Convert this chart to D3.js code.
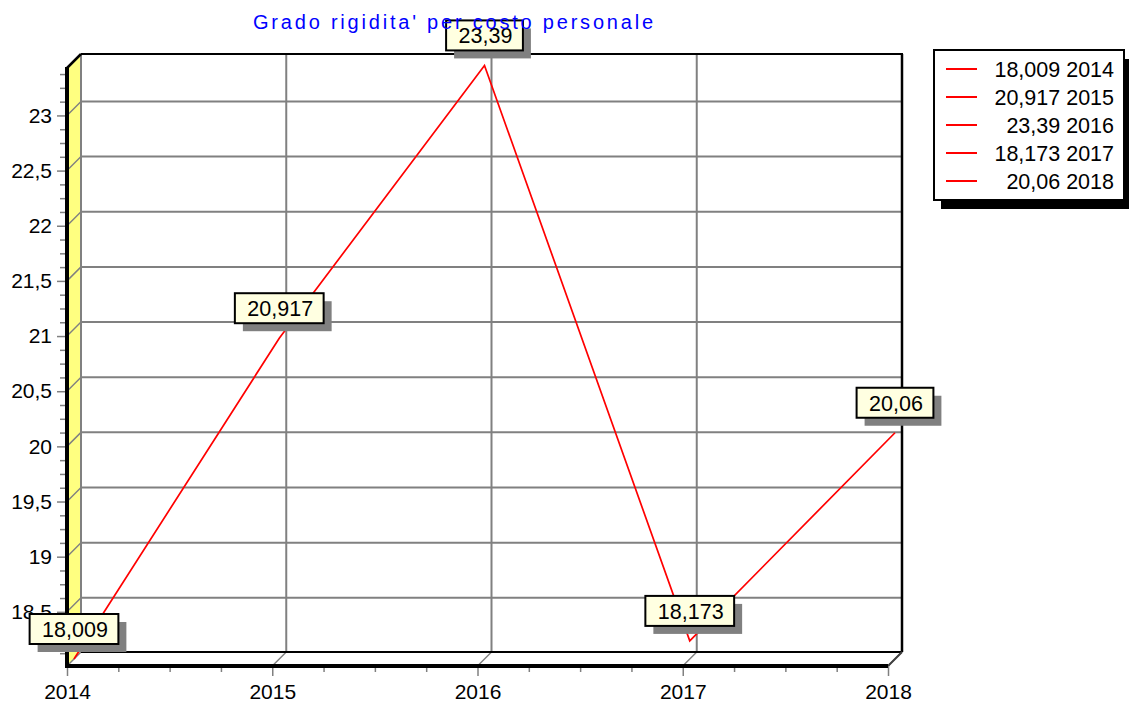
<!DOCTYPE html>
<html>
<head>
<meta charset="utf-8">
<script src="https://cdn.jsdelivr.net/npm/d3@7"></script>
<style>
	body { margin: 0; background: #fff; }
	svg { display: block; font-family: "Liberation Sans", Arial, sans-serif; }
</style>
</head>
<body>
<div id="chart"></div>
<script>
// dati del grafico
var titolo = "Grado rigidita' per costo personale";
var anni = [2014, 2015, 2016, 2017, 2018];
var valori = [18.009, 20.917, 23.39, 18.173, 20.06];
var yTicks = [18.5, 19, 19.5, 20, 20.5, 21, 21.5, 22, 22.5, 23];
var yMinor = d3.range(18.125, 23.43, 0.125).filter(function (v) { return yTicks.indexOf(v) < 0; });
var xMinor = d3.range(2014, 2018.01, 0.25).filter(function (v) { return anni.indexOf(v) < 0; });

var W = 1129, H = 705;
var depth = 14;

function virgola(v) {
	return String(v).replace(".", ",");
}

var svg = d3.select("#chart").append("svg")
	.attr("width", W)
	.attr("height", H);

// scale: asse frontale e piano di fondo
var xF = d3.scaleLinear().domain([2014, 2018]).range([67, 888]);
var yB = d3.scaleLinear().domain([18.009, 23.43]).range([652, 54]);
var yF = yB.copy().range([652 + depth, 54 + depth]);

var x0 = xF(2014) + depth, x1 = xF(2018) + depth;
var yTop = yB.range()[1], yBot = yB.range()[0];

// piano di fondo
svg.append("rect")
	.attr("x", x0).attr("y", yTop)
	.attr("width", x1 - x0).attr("height", yBot - yTop)
	.attr("fill", "#fff");

// griglia
svg.selectAll(".gy").data(yTicks).enter().append("line")
	.attr("x1", x0).attr("x2", x1)
	.attr("y1", function (d) { return yB(d); })
	.attr("y2", function (d) { return yB(d); })
	.attr("stroke", "#808080").attr("stroke-width", 2);

svg.selectAll(".gx").data(anni).enter().append("line")
	.attr("x1", function (d) { return xF(d) + depth; })
	.attr("x2", function (d) { return xF(d) + depth; })
	.attr("y1", yTop).attr("y2", yBot)
	.attr("stroke", "#808080").attr("stroke-width", 2);

// parete sinistra gialla
svg.append("polygon")
	.attr("points", [[xF(2014), yF.range()[1]], [x0, yTop], [x0, yBot], [xF(2014), yF.range()[0]]].join(" "))
	.attr("fill", "#ffff80");

svg.selectAll(".cy").data(yTicks).enter().append("line")
	.attr("x1", xF(2014)).attr("x2", x0)
	.attr("y1", function (d) { return yF(d); })
	.attr("y2", function (d) { return yB(d); })
	.attr("stroke", "#808080").attr("stroke-width", 1.5);

svg.selectAll(".cx").data(anni).enter().append("line")
	.attr("x1", function (d) { return xF(d); })
	.attr("x2", function (d) { return xF(d) + depth; })
	.attr("y1", yBot + depth).attr("y2", yBot)
	.attr("stroke", "#808080").attr("stroke-width", 1.5);

// bordi
svg.append("line").attr("x1", x0).attr("x2", x0).attr("y1", yTop).attr("y2", yBot)
	.attr("stroke", "#808080").attr("stroke-width", 2);
svg.append("line").attr("x1", x0).attr("x2", x1 + 1).attr("y1", yTop).attr("y2", yTop)
	.attr("stroke", "#000").attr("stroke-width", 2);
svg.append("line").attr("x1", x1).attr("x2", x1).attr("y1", yTop).attr("y2", yBot)
	.attr("stroke", "#000").attr("stroke-width", 2.5);
svg.append("line").attr("x1", x0).attr("x2", x1).attr("y1", yBot).attr("y2", yBot)
	.attr("stroke", "#000").attr("stroke-width", 2);
svg.append("line").attr("x1", xF(2018)).attr("x2", x1).attr("y1", yBot + depth).attr("y2", yBot)
	.attr("stroke", "#404040").attr("stroke-width", 2);
svg.append("line").attr("x1", xF(2014)).attr("x2", x0).attr("y1", yF.range()[1]).attr("y2", yTop)
	.attr("stroke", "#000").attr("stroke-width", 2.5);

// assi frontali
var axY = svg.append("g").attr("transform", "translate(" + xF(2014) + ",0)")
	.call(d3.axisLeft(yF).tickValues(yTicks).tickSize(10).tickPadding(5).tickFormat(virgola));
var axYm = svg.append("g").attr("transform", "translate(" + xF(2014) + ",0)")
	.call(d3.axisLeft(yF).tickValues(yMinor).tickSize(7).tickFormat(""));
var axX = svg.append("g").attr("transform", "translate(0," + (yBot + depth) + ")")
	.call(d3.axisBottom(xF).tickValues(anni).tickSize(10).tickPadding(8).tickFormat(d3.format("d")));
var axXm = svg.append("g").attr("transform", "translate(0," + (yBot + depth) + ")")
	.call(d3.axisBottom(xF).tickValues(xMinor).tickSize(6).tickFormat(""));

[axY, axYm, axX, axXm].forEach(function (g) {
	g.select(".domain").remove();
	g.selectAll("line").attr("stroke", "#808080").attr("stroke-width", 1.5);
	g.selectAll("text").attr("fill", "#000").style("font-size", "21px")
		.style("font-family", "\"Liberation Sans\", Arial, sans-serif");
});

svg.append("line").attr("x1", xF(2014)).attr("x2", xF(2014))
	.attr("y1", yF.range()[1] - 1).attr("y2", yBot + depth + 2)
	.attr("stroke", "#000").attr("stroke-width", 4);
svg.append("line").attr("x1", xF(2014) - 2).attr("x2", xF(2018))
	.attr("y1", yBot + depth).attr("y2", yBot + depth)
	.attr("stroke", "#000").attr("stroke-width", 4);

// serie (a metà profondità)
var mid = depth / 2;
var punti = anni.map(function (a, i) {
	return {anno: a, v: valori[i], x: xF(a) + mid, y: yB(valori[i]) + mid};
});

svg.append("path")
	.datum(punti)
	.attr("d", d3.line().x(function (d) { return d.x; }).y(function (d) { return d.y; }))
	.attr("fill", "none")
	.attr("stroke", "#ff0000")
	.attr("stroke-width", 1.7);

// etichette
var marks = svg.selectAll(".mark").data(punti).enter().append("g");
marks.each(function (d) {
	var g = d3.select(this);
	var sh = g.append("rect");
	var bx = g.append("rect");
	var t = g.append("text")
		.attr("x", d.x + 1)
		.attr("y", d.y - 15 - 30 + 23)
		.attr("text-anchor", "middle")
		.style("font-size", "21.5px")
		.text(virgola(d.v));
	var w = t.node().getComputedTextLength() + 23;
	sh.attr("x", d.x - w / 2 + 8).attr("y", d.y - 45 + 8)
		.attr("width", w).attr("height", 30).attr("fill", "#808080");
	bx.attr("x", d.x - w / 2).attr("y", d.y - 45)
		.attr("width", w).attr("height", 30)
		.attr("fill", "#ffffe1").attr("stroke", "#000").attr("stroke-width", 2);
});

// legenda
var leg = svg.append("g");
leg.append("rect").attr("x", 941).attr("y", 59).attr("width", 190).attr("height", 150).attr("fill", "#000");
leg.append("rect").attr("x", 934).attr("y", 50).attr("width", 190).attr("height", 150)
	.attr("fill", "#fff").attr("stroke", "#000").attr("stroke-width", 2);
var voci = leg.selectAll(".voce").data(punti).enter().append("g")
	.attr("transform", function (d, i) { return "translate(0," + (69 + i * 28) + ")"; });
voci.append("line").attr("x1", 946).attr("x2", 977).attr("y1", 0).attr("y2", 0)
	.attr("stroke", "#ff0000").attr("stroke-width", 2);
voci.append("text").attr("x", 1114).attr("dy", "0.35em").attr("text-anchor", "end")
	.style("font-size", "21.5px")
	.text(function (d) { return virgola(d.v) + " " + d.anno; });

// titolo
svg.append("text")
	.attr("x", 253).attr("y", 29)
	.attr("fill", "#0000ff")
	.attr("textLength", 400)
	.attr("lengthAdjust", "spacing")
	.style("font-size", "20px")
	.text(titolo);
</script>
</body>
</html>
